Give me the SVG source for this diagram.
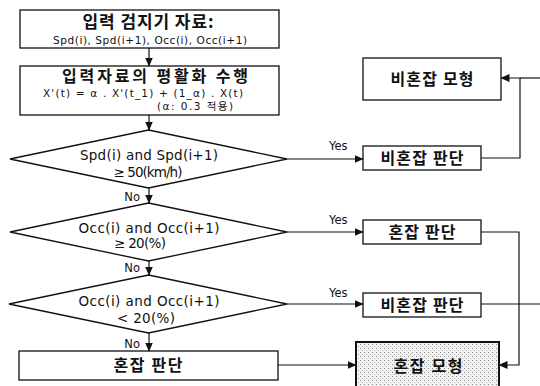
<svg xmlns="http://www.w3.org/2000/svg" width="540" height="386" viewBox="0 0 540 386">
<style>
.box{fill:#fff;stroke:#111;stroke-width:1.3}
.ln{fill:none;stroke:#111;stroke-width:1.2}
.ko{font-family:"Noto Sans CJK KR","Noto Sans",sans-serif;font-weight:bold;fill:#111;text-anchor:middle}
.la{font-family:"DejaVu Sans","Noto Sans CJK KR",sans-serif;fill:#111;text-anchor:middle}
.lab{font-family:"DejaVu Sans",sans-serif;font-size:11.5px;fill:#111}
</style>
<defs>
<marker id="ah" markerWidth="9" markerHeight="8" refX="8.5" refY="4" orient="auto" markerUnits="userSpaceOnUse">
<path d="M0,0 L9,4 L0,8 Z" fill="#111"/>
</marker>
<pattern id="dots" width="4" height="4" patternUnits="userSpaceOnUse">
<rect width="4" height="4" fill="#f2f2f2"/>
<rect x="0" y="0" width="1" height="1" fill="#888"/>
<rect x="2" y="2" width="1" height="1" fill="#aaa"/>
</pattern>
</defs>

<g id="n-input">
<rect class="box" x="20" y="10" width="259" height="38"/>
<text class="ko" x="148" y="28" font-size="17" textLength="131" lengthAdjust="spacing">입력 검지기 자료:</text>
<text class="la" x="150" y="44" font-size="10.5" textLength="194" lengthAdjust="spacing">Spd(i), Spd(i+1), Occ(i), Occ(i+1)</text>
</g>

<g id="n-smooth">
<rect class="box" x="20" y="66" width="259" height="49"/>
<text class="ko" x="155" y="82" font-size="16" textLength="186" lengthAdjust="spacing">입력자료의 평활화 수행</text>
<text class="la" x="143" y="97" font-size="10.5" textLength="200" lengthAdjust="spacing">X'(t) = α . X'(t_1) + (1_α) . X(t)</text>
<text class="la" x="195" y="110" font-size="10.5" textLength="76" lengthAdjust="spacing">(α: 0.3 적용)</text>
</g>

<g id="n-d1">
<polygon class="box" points="148.5,130 287,159 148.5,188 10,159"/>
<text class="la" x="149" y="160" font-size="13.5" textLength="138" lengthAdjust="spacing">Spd(i) and Spd(i+1)</text>
<text class="la" x="148" y="177" font-size="13.5" textLength="69" lengthAdjust="spacing">≥ 50(km/h)</text>
</g>

<g id="n-d2">
<polygon class="box" points="148.5,203 287,232 148.5,261 10,232"/>
<text class="la" x="149" y="233" font-size="13.5" textLength="141" lengthAdjust="spacing">Occ(i) and Occ(i+1)</text>
<text class="la" x="140" y="248" font-size="13.5" textLength="52" lengthAdjust="spacing">≥ 20(%)</text>
</g>

<g id="n-d3">
<polygon class="box" points="148.5,275 287,304 148.5,333 9,304"/>
<text class="la" x="149" y="306" font-size="13.5" textLength="141" lengthAdjust="spacing">Occ(i) and Occ(i+1)</text>
<text class="la" x="146" y="323" font-size="13.5" textLength="58" lengthAdjust="spacing">&lt; 20(%)</text>
</g>

<g id="n-cong-judge-left">
<rect class="box" x="19" y="351" width="259" height="29"/>
<text class="ko" x="148" y="371" font-size="16" textLength="69" lengthAdjust="spacing">혼잡 판단</text>
</g>

<g id="n-noncong-model">
<rect class="box" x="363" y="58" width="138" height="42"/>
<text class="ko" x="432" y="85" font-size="16" textLength="83" lengthAdjust="spacing">비혼잡 모형</text>
</g>

<g id="n-noncong-judge1">
<rect class="box" x="363" y="146" width="118" height="24"/>
<text class="ko" x="422" y="164" font-size="16" textLength="83" lengthAdjust="spacing">비혼잡 판단</text>
</g>

<g id="n-cong-judge">
<rect class="box" x="363" y="220" width="118" height="24"/>
<text class="ko" x="422" y="238" font-size="16" textLength="67" lengthAdjust="spacing">혼잡 판단</text>
</g>

<g id="n-noncong-judge2">
<rect class="box" x="363" y="293" width="118" height="24"/>
<text class="ko" x="422" y="311" font-size="16" textLength="83" lengthAdjust="spacing">비혼잡 판단</text>
</g>

<g id="n-cong-model">
<rect x="356" y="342" width="143" height="52" fill="url(#dots)" stroke="#111" stroke-width="2"/>
<text class="ko" x="428" y="372" font-size="16" textLength="69" lengthAdjust="spacing">혼잡 모형</text>
</g>

<g id="connectors">
<line class="ln" x1="149" y1="48" x2="149" y2="66" marker-end="url(#ah)"/>
<line class="ln" x1="149" y1="115" x2="149" y2="130" marker-end="url(#ah)"/>
<line class="ln" x1="149" y1="188" x2="149" y2="203" marker-end="url(#ah)"/>
<line class="ln" x1="149" y1="261" x2="149" y2="275" marker-end="url(#ah)"/>
<line class="ln" x1="149" y1="333" x2="149" y2="351" marker-end="url(#ah)"/>
<line class="ln" x1="287" y1="159" x2="363" y2="159" marker-end="url(#ah)"/>
<line class="ln" x1="287" y1="232" x2="363" y2="232" marker-end="url(#ah)"/>
<line class="ln" x1="287" y1="304" x2="363" y2="304" marker-end="url(#ah)"/>
<line class="ln" x1="278" y1="365" x2="356" y2="365" marker-end="url(#ah)"/>
<polyline class="ln" points="481,158 520,158 520,78 501,78" marker-end="url(#ah)"/>
<line class="ln" x1="520" y1="78" x2="540" y2="78"/>
<polyline class="ln" points="481,232 519,232 519,365 499,365" marker-end="url(#ah)"/>
<line class="ln" x1="481" y1="304" x2="540" y2="304"/>
<text class="lab" x="140" y="201" text-anchor="end">No</text>
<text class="lab" x="140" y="272" text-anchor="end">No</text>
<text class="lab" x="140" y="348" text-anchor="end">No</text>
<text class="lab" x="329" y="150">Yes</text>
<text class="lab" x="329" y="224">Yes</text>
<text class="lab" x="329" y="297">Yes</text>
</g>
</svg>
